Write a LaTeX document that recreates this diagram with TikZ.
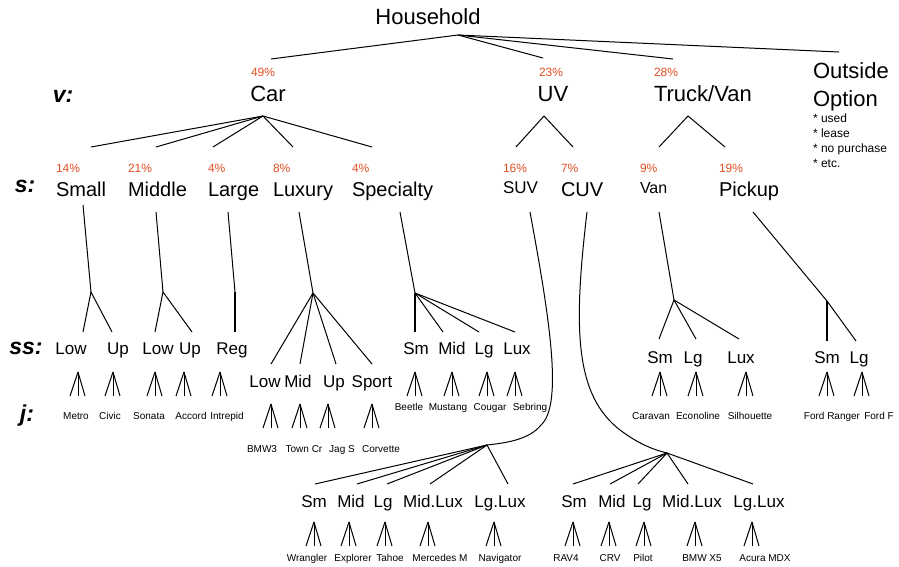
\documentclass[tikz,border=0pt]{standalone}
\usepackage{fontspec}
\setmainfont{Liberation Sans}
\definecolor{pctred}{RGB}{226,78,32}

\begin{document}
\begin{tikzpicture}[x=1pt,y=-1pt,line width=1pt,
  every node/.style={inner sep=0pt,outer sep=0pt,anchor=base},
  vlvl/.style={font=\fontsize{22}{26}\selectfont},
  slvl/.style={font=\fontsize{20}{24}\selectfont,anchor=base west},
  sslvl/.style={font=\fontsize{17}{20}\selectfont},
  prod/.style={font=\fontsize{10}{12}\selectfont},
  pct/.style={font=\fontsize{12}{14}\selectfont,text=pctred,anchor=base west},
  tag/.style={font=\fontsize{23}{26}\selectfont\bfseries\itshape},
  note/.style={font=\fontsize{12}{14}\selectfont,anchor=base west},
  stem/.style={line width=1.7pt},
  prodfan/.pic={
    \draw (0,0) -- (-8,24) (0,0) -- (7,24);
    \draw[line width=1.8pt] (0.5,0) -- (0.5,24);
  }]
\useasboundingbox (0,0) rectangle (899,566);

% ---------- level tags ----------
\node[tag] (tv)  at (63,102)  {v:};
\node[tag] (ts)  at (25,192)  {s:};
\node[tag] (tss) at (26,354)  {ss:};
\node[tag] (tj)  at (27,421)  {j:};

% ---------- root and first split ----------
\node[vlvl] (hh) at (428,24) {Household};
\node[vlvl] (car) at (268,101) {Car};
\node[vlvl] (uv)  at (553,101) {UV};
\node[vlvl,anchor=base west] (tvan) at (654,101) {Truck/Van};
\node[vlvl,anchor=base west] (out1) at (813,78)  {Outside};
\node[vlvl,anchor=base west] (out2) at (813,106) {Option};
\node[note] (n1) at (813,122) {* used};
\node[note] (n2) at (813,137) {* lease};
\node[note] (n3) at (813,152) {* no purchase};
\node[note] (n4) at (813,167) {* etc.};
\node[pct] (pcar) at (251,76) {49\%};
\node[pct] (puv)  at (539,76) {23\%};
\node[pct] (ptv)  at (654,76) {28\%};

\coordinate (hhB) at (458,35);
\coordinate (carT) at (271,59);
\coordinate (uvT)  at (543,58);
\coordinate (tvT)  at (673,59);
\coordinate (outT) at (839,52);
\foreach \n in {carT,uvT,tvT,outT} \draw (hhB) -- (\n);

% ---------- segments ----------
\foreach \n/\x/\p/\t in {small/56/14/Small, middle/128/21/Middle, large/208/4/Large,
    luxury/273/8/Luxury, specialty/352/4/Specialty, cuv/561/7/CUV, pickup/719/19/Pickup}{
  \node[slvl] (\n) at (\x,196) {\t};
  \node[pct] (p\n) at (\x,172) {\p\%};
}
\node[slvl,font=\fontsize{17}{20}\selectfont] (suv) at (503,193) {SUV};
\node[pct] (psuv) at (503,172) {16\%};
\node[slvl,font=\fontsize{16}{19}\selectfont] (van) at (640,193) {Van};
\node[pct] (pvan) at (640,172) {9\%};

\coordinate (carB) at (263,116);
\foreach \n/\x in {smallT/91, middleT/156, largeT/213, luxuryT/293, specialtyT/372}{
  \coordinate (\n) at (\x,147);
  \draw (carB) -- (\n);
}
\coordinate (uvB) at (544,116);
\coordinate (suvT) at (516,147);
\coordinate (cuvT) at (573,147);
\draw (suvT) -- (uvB) -- (cuvT);
\coordinate (tvB) at (688,116);
\coordinate (vanT) at (659,147);
\coordinate (pickupT) at (725,147);
\draw (vanT) -- (tvB) -- (pickupT);

% ---------- car sub-segments ----------
\foreach \n/\x/\t in {slow/71/Low, sup/118/Up, mlow/158/Low, mup/190/Up, lreg/232/Reg,
    psm/416/Sm, pmid/452/Mid, plg/484/Lg, plux/517/Lux}
  \node[sslvl] (\n) at (\x,354) {\t};
\foreach \n/\x/\t in {xlow/265/Low, xmid/298/Mid, xup/334/Up, xsport/372/Sport}
  \node[sslvl] (\n) at (\x,387) {\t};

\coordinate (smallS) at (83,205);   \coordinate (smallB) at (91,292);
\coordinate (middleS) at (156,212); \coordinate (middleB) at (163,292);
\coordinate (largeS) at (228,212);  \coordinate (largeB) at (235,292);
\coordinate (luxS) at (299,212);    \coordinate (luxB) at (313,293);
\coordinate (specS) at (400,212);   \coordinate (specB) at (415,293);
\draw (smallS) -- (smallB);
\draw (middleS) -- (middleB);
\draw (largeS) -- (largeB);
\draw (luxS) -- (luxB);
\draw (specS) -- (specB);

\coordinate (slowT) at (83,332);  \coordinate (supT) at (112,332);
\draw (slowT) -- (smallB) -- (supT);
\coordinate (mlowT) at (155,332); \coordinate (mupT) at (192,332);
\draw (mlowT) -- (middleB) -- (mupT);
\coordinate (lregT) at (235,332);
\draw[stem] (largeB) -- (lregT);
\foreach \n/\x in {xlowT/271, xmidT/300, xupT/336, xsportT/372}{
  \coordinate (\n) at (\x,364);
  \draw (luxB) -- (\n);
}
\coordinate (psmT) at (415,332);
\draw[stem] (specB) -- (psmT);
\foreach \n/\x in {pmidT/443, plgT/479, pluxT/515}{
  \coordinate (\n) at (\x,332);
  \draw (specB) -- (\n);
}

% ---------- truck/van sub-segments ----------
\foreach \n/\x/\t in {vsm/660/Sm, vlg/693/Lg, vlux/741/Lux, ksm/827/Sm, klg/859/Lg}
  \node[sslvl] (\n) at (\x,363) {\t};
\coordinate (vanS) at (659,212);    \coordinate (vanB) at (674,300);
\coordinate (pickS) at (753,212);   \coordinate (pickB) at (827,301);
\draw (vanS) -- (vanB);
\draw (pickS) -- (pickB);
\foreach \n/\x in {vsmT/659, vlgT/696, vluxT/739}{
  \coordinate (\n) at (\x,339);
  \draw (vanB) -- (\n);
}
\coordinate (ksmT) at (827,341); \coordinate (klgT) at (856,341);
\draw[stem] (pickB) -- (ksmT);
\draw (pickB) -- (klgT);

% ---------- utility-vehicle sub-segments ----------
\coordinate (suvS) at (530,212);  \coordinate (suvB) at (487,445);
\coordinate (cuvS) at (587,212);  \coordinate (cuvB) at (667,453);
\draw (suvS) .. controls +(20,108) and +(22,-20) .. (541,425)
             .. controls +(-12,15) and +(18,-2) .. (suvB);
\draw (cuvS) .. controls +(-14,118) and +(-45,-35) .. (620,430)
             .. controls +(20,15) and +(-12,-3) .. (cuvB);
\foreach \n/\x/\t in {usm/314/Sm, umid/351/Mid, ulg/383/Lg, umlux/433/Mid.Lux, ulglux/500/Lg.Lux,
    csm/574/Sm, cmid/612/Mid, clg/642/Lg, cmlux/692/Mid.Lux, clglux/759/Lg.Lux}
  \node[sslvl] (\n) at (\x,507) {\t};
\foreach \n/\x in {usmT/315, umidT/357, ulgT/387, umluxT/430, ulgluxT/508}{
  \coordinate (\n) at (\x,484);
  \draw (suvB) -- (\n);
}
\foreach \n/\x in {csmT/573, cmidT/610, clgT/638, cmluxT/688, clgluxT/753}{
  \coordinate (\n) at (\x,484);
  \draw (cuvB) -- (\n);
}

% ---------- products ----------
\foreach \x in {78,113,155,184,220,415,452,487,515,660,696,746,827,862}
  \pic at (\x,372) {prodfan};
\foreach \x in {271,300,328,372}
  \pic at (\x,404) {prodfan};
\foreach \x in {314,349,385,428,494,573,609,644,695,752}
  \pic at (\x,522) {prodfan};

\foreach \n/\x/\t in {metro/76/Metro, civic/110/Civic, sonata/149/Sonata, accord/191/Accord,
    intrepid/227/Intrepid, caravan/651/Caravan, econoline/698/Econoline,
    silhouette/750/Silhouette, ranger/832/Ford Ranger, fordf/879/Ford F}
  \node[prod] (\n) at (\x,419) {\t};
\foreach \n/\x/\t in {beetle/409/Beetle, mustang/448/Mustang, cougar/490/Cougar, sebring/530/Sebring}
  \node[prod] (\n) at (\x,410) {\t};
\foreach \n/\x/\t in {bmwthree/262/BMW3, towncr/304/Town Cr, jags/342/Jag S, corvette/381/Corvette}
  \node[prod] (\n) at (\x,452) {\t};
\foreach \n/\x/\t in {wrangler/307/Wrangler, explorer/353/Explorer, tahoe/390/Tahoe,
    mercedes/440/Mercedes M, navigator/500/Navigator, ravfour/566/RAV4, crv/610/CRV,
    pilot/643/Pilot, bmwxfive/702/BMW X5, acura/765/Acura MDX}
  \node[prod] (\n) at (\x,561) {\t};
\end{tikzpicture}
\end{document}
